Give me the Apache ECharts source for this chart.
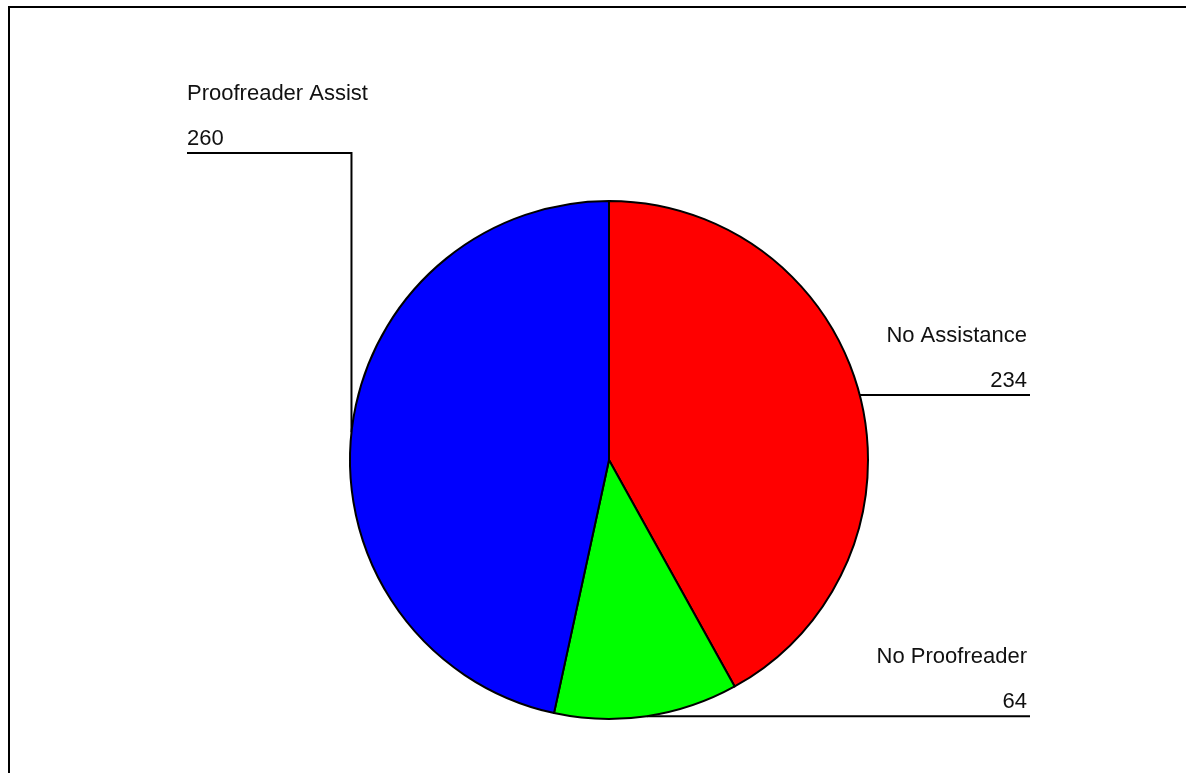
<!DOCTYPE html>
<html>
<head>
<meta charset="utf-8">
<title>Proofreading assistance</title>
<script src="https://cdn.jsdelivr.net/npm/echarts@6/dist/echarts.min.js"></script>
<style>
  html, body { margin: 0; padding: 0; background: #fff; }
  #chart { width: 1186px; height: 773px; }
</style>
</head>
<body>
<div id="chart"></div>
<script>
// Slice names, counts and fill colours, in clockwise order from 12 o'clock
const categories = ['No Assistance', 'No Proofreader', 'Proofreader Assist'];
const counts = [234, 64, 260];
const sliceColors = ['#ff0000', '#00ff00', '#0000ff'];

const chart = echarts.init(document.getElementById('chart'), null, { renderer: 'canvas' });

const pieData = categories.map((name, i) => ({
  name: name,
  value: counts[i],
  itemStyle: { color: sliceColors[i] }
}));

// Leader-line geometry: right-hand labels end at a common right edge,
// the left-hand label elbows up and runs left to the text.
const RIGHT_EDGE = 1030;
const LEFT_EDGE = 187;
const LEFT_SHELF_Y = 153;

chart.setOption({
  backgroundColor: '#ffffff',
  animation: false,
  graphic: [{
    type: 'polyline',
    shape: { points: [[9, 773], [9, 7], [1186, 7]] },
    style: { stroke: '#000', lineWidth: 2, fill: null },
    silent: true
  }],
  series: [{
    type: 'pie',
    center: [609, 460],
    radius: 259,
    startAngle: 90,
    clockwise: true,
    avoidLabelOverlap: false,
    data: pieData,
    itemStyle: { borderColor: '#000', borderWidth: 2 },
    emphasis: { disabled: true },
    label: {
      show: true,
      position: 'outside',
      formatter: '{b}\n{c}',
      fontFamily: 'Liberation Sans, Arial, sans-serif',
      fontSize: 22,
      lineHeight: 45,
      color: '#111'
    },
    labelLine: {
      show: true,
      length: 20,
      length2: 20,
      smooth: false,
      lineStyle: { color: '#000', width: 2 }
    },
    labelLayout: function (params) {
      const start = params.labelLinePoints[0];
      const sx = start[0], sy = start[1];
      if (sx >= 609) {
        return {
          x: RIGHT_EDGE - 3,
          y: sy + 8,
          align: 'right',
          verticalAlign: 'bottom',
          labelLinePoints: [[sx, sy], [RIGHT_EDGE, sy], [RIGHT_EDGE, sy]]
        };
      }
      return {
        x: LEFT_EDGE,
        y: LEFT_SHELF_Y + 8,
        align: 'left',
        verticalAlign: 'bottom',
        labelLinePoints: [[sx, sy], [sx, LEFT_SHELF_Y], [LEFT_EDGE, LEFT_SHELF_Y]]
      };
    }
  }]
});
</script>
</body>
</html>
